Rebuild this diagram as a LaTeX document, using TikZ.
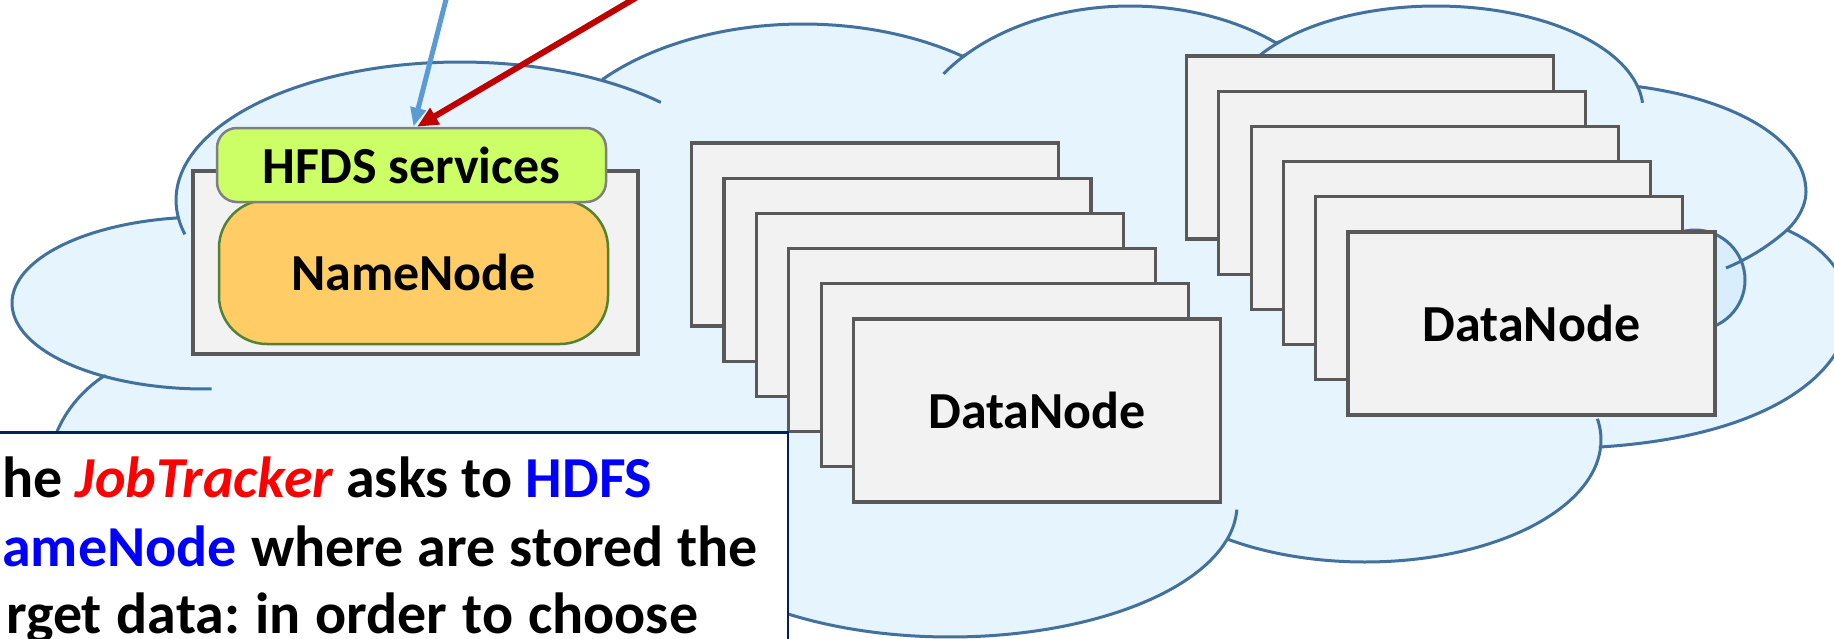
\documentclass[tikz,border=0pt]{standalone}
\usepackage{fontspec}
\setmainfont{Carlito}
\usetikzlibrary{arrows.meta}
\definecolor{cloudline}{HTML}{41719C}
\definecolor{cloudfill}{HTML}{E6F4FD}
\definecolor{circfill}{HTML}{D9EEFC}
\definecolor{boxline}{HTML}{595959}
\definecolor{boxfill}{HTML}{F2F2F2}
\definecolor{greenfill}{HTML}{CCFF66}
\definecolor{greenline}{HTML}{808080}
\definecolor{orangefill}{HTML}{FFCC66}
\definecolor{orangeline}{HTML}{548235}
\definecolor{navy}{HTML}{002060}
\definecolor{arrblue}{HTML}{5B9BD5}
\definecolor{arrred}{HTML}{C00000}
\definecolor{txtred}{HTML}{FF0000}
\definecolor{txtblue}{HTML}{0000FF}
\newcommand{\spreadline}[2]{\hbox to #1{\frenchspacing\spaceskip=0.23em plus 1fil\relax #2}}
\begin{document}
\begin{tikzpicture}[x=1pt,y=-1pt,
  cloudshape/.style={fill=cloudfill, draw=cloudline, line width=3pt, line join=round},
  stub/.style={draw=cloudline, line width=3pt},
  bigfont/.style={font=\fontsize{52}{62}\selectfont\bfseries},
  dnbox/.style={draw=boxline, fill=boxfill, line width=3.2pt, minimum width=367pt, minimum height=183pt, inner sep=0pt, bigfont},
  tline/.style={inner sep=0pt, font=\fontsize{58}{70}\selectfont\bfseries, anchor=base west}
]
\useasboundingbox (0,0) rectangle (1834,638);
\clip (0,0) rectangle (1834,638);
\fill[white] (0,0) rectangle (1834,638);

% cloud outline: one elliptic arc per bump
\path[cloudshape]
  plot[domain=150:236.6, samples=25, smooth] ({175+128*cos(\x)},{480+125*sin(\x)})
  -- plot[domain=121:262, samples=40, smooth] ({205+193*cos(\x)},{303+86*sin(\x)})
  -- plot[domain=173:300.6, samples=40, smooth] ({460+284*cos(\x)},{200+138*sin(\x)})
  -- plot[domain=221:307, samples=30, smooth] ({803+265*cos(\x)},{184+160*sin(\x)})
  -- plot[domain=223.3:310.4, samples=30, smooth] ({1130+225*cos(\x)},{160+154*sin(\x)})
  -- plot[domain=221:347, samples=40, smooth] ({1436+207*cos(\x)},{110+104*sin(\x)})
  -- (1641,87) .. controls (1735,100) and (1806,140) .. (1806,192)
  .. controls (1806,205) and (1798,220) .. (1787,230)
  .. controls (1900,280) and (1870,430) .. (1600,447)
  -- plot[domain=3:125, samples=40, smooth] ({1365+236*cos(\x)},{440+122*sin(\x)})
  -- plot[domain=15:150, samples=40, smooth] ({950+287*cos(\x)},{505+132*sin(\x)})
  -- cycle;

\draw[cloudline, fill=circfill, line width=3pt] (1695,280) circle[radius=50];

% inner arcs of the cloud
\draw[stub] plot[domain=121:88, samples=12, smooth] ({205+193*cos(\x)},{303+86*sin(\x)});
\draw[stub] plot[domain=173:165.6, samples=6, smooth] ({460+284*cos(\x)},{200+138*sin(\x)});
\draw[stub] plot[domain=300.6:315, samples=8, smooth] ({460+284*cos(\x)},{200+138*sin(\x)});
\draw[stub] plot[domain=214:223.3, samples=6, smooth] ({1130+225*cos(\x)},{160+154*sin(\x)});
\draw[stub] plot[domain=211:221, samples=6, smooth] ({1436+207*cos(\x)},{110+104*sin(\x)});
\draw[stub] plot[domain=347:356, samples=6, smooth] ({1436+207*cos(\x)},{110+104*sin(\x)});
\draw[stub] (1787,230) .. controls (1770,245) and (1750,258) .. (1726,268);
\draw[stub] plot[domain=-10:3, samples=8, smooth] ({1365+236*cos(\x)},{440+122*sin(\x)});
\draw[stub] plot[domain=2:15, samples=8, smooth] ({950+287*cos(\x)},{505+132*sin(\x)});

% NameNode machine
\node[draw=boxline, fill=boxfill, line width=3.2pt, minimum width=445pt, minimum height=183pt] (nnc) at (415.5,262.5) {};
\node[draw=orangeline, fill=orangefill, line width=2.5pt, rounded corners=48pt, minimum width=389pt, minimum height=144pt, bigfont] (nn) at (413.5,272) {NameNode};
\node[draw=greenline, fill=greenfill, line width=2.5pt, rounded corners=20pt, minimum width=389pt, minimum height=74pt, bigfont] (hfds) at (411.5,165) {HFDS services};

% DataNode stacks
\foreach \i in {0,...,4} {
  \node[dnbox] (L\i) at ({875+32.4*\i},{234.5+35.2*\i}) {};
}
\node[dnbox] (L5) at (1037,410.5) {DataNode};
\foreach \i in {0,...,4} {
  \node[dnbox] (R\i) at ({1370+32.3*\i},{147.5+35.2*\i}) {};
}
\node[dnbox] (R5) at (1531.5,323.5) {DataNode};

% text box
\node[draw=navy, fill=white, line width=2.5pt, minimum width=840pt, minimum height=230pt, anchor=north east, inner sep=0pt] (tb) at (789,431) {};
\node[tline] (l1) at (2,497) {\spreadline{644pt}{he {\color{txtred}\itshape JobTracker} asks to {\color{txtblue}HDFS}}};
\node[tline] (l2) at (2,566) {\spreadline{756pt}{{\color{txtblue}ameNode} where are stored the}};
\node[tline] (l3) at (6,633) {\spreadline{692pt}{rget data: in order to choose}};

% arrows
\coordinate (bs) at (451,-20);
\coordinate (rs) at (666,-20);
\draw[arrblue, line width=5pt, -{Triangle[length=19pt,width=15pt]}] (bs) -- ([xshift=2pt]hfds.north);
\draw[arrred, line width=6pt, -{Triangle[length=21pt,width=18pt]}] (rs) -- ([xshift=5.5pt]hfds.north);
\end{tikzpicture}
\end{document}
